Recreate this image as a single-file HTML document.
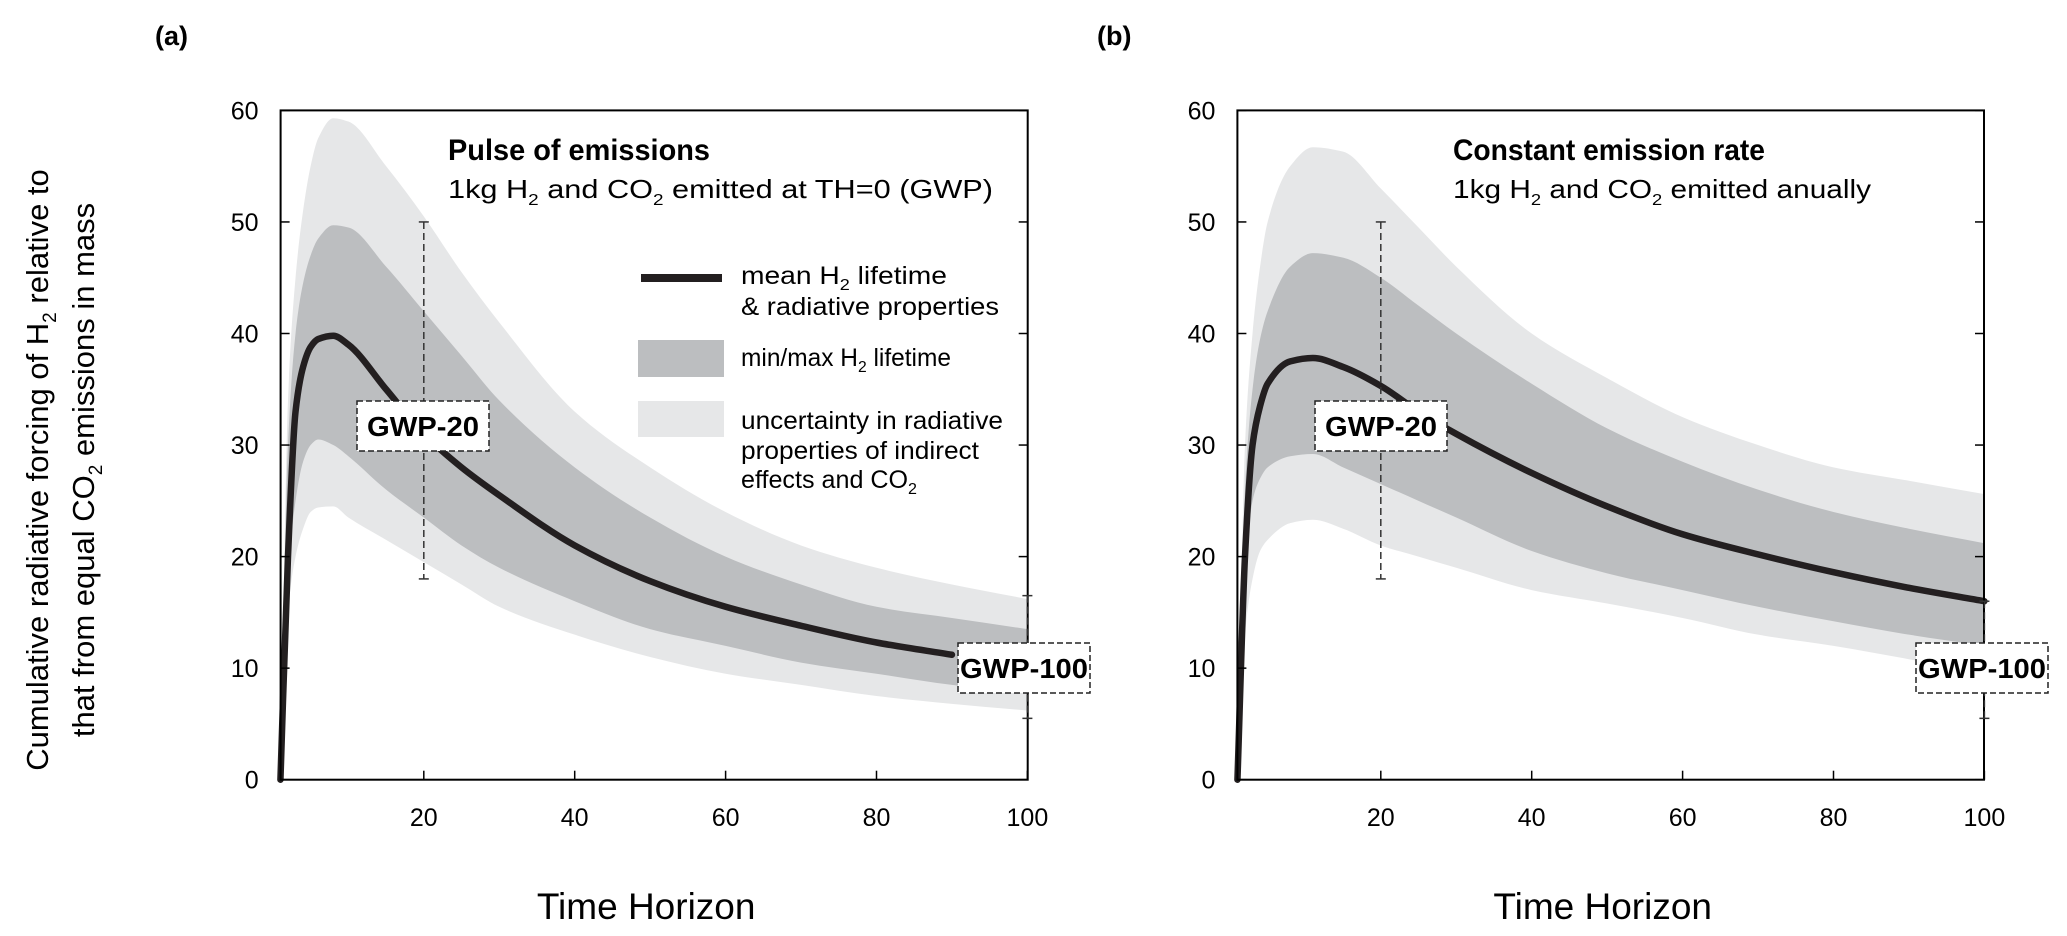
<!DOCTYPE html>
<html><head><meta charset="utf-8"><style>
html,body{margin:0;padding:0;background:#fff;width:2067px;height:936px;overflow:hidden}
svg{display:block;font-family:"Liberation Sans",Arial,sans-serif}
</style></head><body>
<svg id="fig" width="2067" height="936" viewBox="0 0 2067 936" xmlns="http://www.w3.org/2000/svg">
<text x="155" y="45" font-size="27" font-weight="bold">(a)</text>
<text x="1097" y="45" font-size="27" font-weight="bold">(b)</text>
<g transform="translate(48,470) rotate(-90)" font-size="31" text-anchor="middle">
<text x="0" y="0">Cumulative radiative forcing of H<tspan font-size="19" dy="8">2</tspan><tspan dy="-8">  relative to</tspan></text>
<text x="0" y="46">that from equal CO<tspan font-size="19" dy="8">2</tspan><tspan dy="-8"> emissions in mass</tspan></text>
</g>
<g id="pa"></g>
<g id="pb"></g>
</svg>
<script>
const yTicks=[0,10,20,30,40,50,60];
const xTicks=[20,40,60,80,100];
// Panel (a) pulse
const aX=[1,2,3,4,5,6,8,10,15,20,25,30,40,50,60,70,80,90,100];
const aMean=[0,20,33,37,38.8,39.5,39.8,39,35,31,28,25.5,21,17.8,15.5,13.8,12.3,11.2,10.3];
const aDarkHi=[0,30,40,44.5,47,48.5,49.7,49.5,46,42,38,34,28,23.5,20,17.5,15.5,14.5,13.5];
const aDarkLo=[0,18,25,28.5,30,30.5,30,29,26,23.5,21,19,16,13.5,12,10.5,9.5,8.5,7.8];
const aLightHi=[0,34,45,51,55,57.5,59.3,59,55,50.5,45.5,41,33,28,24,21,19,17.5,16.2];
const aLightLo=[0,15,20,22.5,24,24.4,24.5,23.5,21.5,19.5,17.5,15.5,13,11,9.5,8.5,7.5,6.8,6.2];
// Panel (b) constant
const bX=[1,2,3,4,5,8,11,15,20,25,30,40,50,60,70,80,90,100];
const bMean=[0,20,30,33.5,35.5,37.5,37.8,37,35.3,33,31,27.5,24.5,22,20.2,18.6,17.2,16];
const bDarkHi=[0,26,35,39.5,42,46,47.2,46.8,45,42.5,40,35.5,31.5,28.5,26,24,22.5,21.2];
const bDarkLo=[0,18,25,27,28,29,29.2,28,26.5,25,23.5,20.5,18.5,17,15.5,14.2,13,12];
const bLightHi=[0,30,40,46,50,55,56.7,56.3,53,49.5,46,40,36,32.5,30,28,26.8,25.6];
const bLightLo=[0,13,18,20.5,21.5,23,23.3,22.5,21,20,19,17,15.8,14.5,13,12,10.8,9.5];
const NS="http://www.w3.org/2000/svg";
function mk(p,t,a){const e=document.createElementNS(NS,t);for(const k in a)e.setAttribute(k,a[k]);p.appendChild(e);return e;}
function spline(pts,cont){const n=pts.length;const h=[],d=[];for(let i=0;i<n-1;i++){h.push(pts[i+1][0]-pts[i][0]);d.push((pts[i+1][1]-pts[i][1])/h[i]);}
  const m=new Array(n);m[0]=d[0];m[n-1]=d[n-2];
  for(let i=1;i<n-1;i++){if(d[i-1]*d[i]<=0)m[i]=0;else{const w1=2*h[i]+h[i-1],w2=h[i]+2*h[i-1];m[i]=(w1+w2)/(w1/d[i-1]+w2/d[i]);}}
  let s=(cont?" L":"M")+pts[0][0]+","+pts[0][1];
  for(let i=0;i<n-1;i++){const p1=pts[i],p2=pts[i+1],hh=h[i];
    s+=" C"+(p1[0]+hh/3)+","+(p1[1]+m[i]*hh/3)+" "+(p2[0]-hh/3)+","+(p2[1]-m[i+1]*hh/3)+" "+p2[0]+","+p2[1];}
  return s;}
function splineRev(pts){
  const r=pts.map(p=>[-p[0],p[1]]).reverse();const s=spline(r,true);
  return s.replace(/(-?[\d.]+),(-?[\d.]+)/g,(a,x,y)=>(-parseFloat(x))+","+y);}
function panel(g,x0,left,right,X,mean,dh,dl,lh,ll,meanEnd,title,sub,subLen,legend,gwp){
  const top=110.4,bot=779.7;
  const sx=v=>x0+v*7.545, sy=v=>bot-v*(bot-top)/60;
  const band=(hi,lo,name,fill)=>{const up=X.map((x,i)=>[sx(x),sy(hi[i])]);const dn=X.map((x,i)=>[sx(x),sy(lo[i])]);
    const p=mk(g,"path",{d:spline(up,false)+splineRev(dn)+" Z",fill:fill});
    
    };
  band(lh,ll,"uncertainty-band","#e6e7e8");
  band(dh,dl,"lifetime-band","#bcbec0");
  const mp=[];X.forEach((x,i)=>{if(x<=meanEnd)mp.push([sx(x),sy(mean[i])]);});
  const ml=mk(g,"path",{d:spline(mp,false),fill:"none",stroke:"#231f20","stroke-width":6.5,"stroke-linecap":"round"});
  
  
  const fr=mk(g,"rect",{x:left,y:top,width:right-left,height:bot-top,fill:"none",stroke:"#000","stroke-width":2});
  
  
  yTicks.forEach(v=>{const y=sy(v);
    mk(g,"line",{x1:left,x2:left+9,y1:y,y2:y,stroke:"#000","stroke-width":1.5});
    mk(g,"line",{x1:right-9,x2:right,y1:y,y2:y,stroke:"#000","stroke-width":1.5});
    const t=mk(g,"text",{x:left-22,y:y+9,"font-size":25,"text-anchor":"end"});t.textContent=v;
    
    });
  xTicks.forEach(v=>{const x=sx(v);
    mk(g,"line",{x1:x,x2:x,y1:bot,y2:bot-9,stroke:"#000","stroke-width":1.5});
    const t=mk(g,"text",{x:x,y:826,"font-size":25,"text-anchor":"middle"});t.textContent=v;
    
    });
  const xt=mk(g,"text",{x:(left+right)/2-8,y:919,"font-size":37,"text-anchor":"middle"});xt.textContent="Time Horizon";
  
  
  const tt=mk(g,"text",{x:title[1],y:160,"font-size":30,"font-weight":"bold",textLength:title[2],lengthAdjust:"spacingAndGlyphs"});tt.textContent=title[0];
  
  
  const st=mk(g,"text",{x:title[1],y:198,"font-size":26,textLength:subLen,lengthAdjust:"spacingAndGlyphs"});st.innerHTML=sub;
  
  
  gwp.forEach(e=>{const x=sx(e.x);
    mk(g,"line",{x1:x,x2:x,y1:sy(e.hi),y2:sy(e.lo),stroke:"#333","stroke-width":1.5,"stroke-dasharray":"7,4"});
    mk(g,"line",{x1:x-5,x2:x+5,y1:sy(e.hi),y2:sy(e.hi),stroke:"#333","stroke-width":1.5});
    mk(g,"line",{x1:x-5,x2:x+5,y1:sy(e.lo),y2:sy(e.lo),stroke:"#333","stroke-width":1.5});
    const r=mk(g,"rect",{x:e.bx,y:e.by,width:132,height:50,fill:"#fff",stroke:"#222","stroke-width":1.5,"stroke-dasharray":"6,3"});
    
    
    const t=mk(g,"text",{x:e.bx+66,y:e.by+35,"font-size":28,"font-weight":"bold","text-anchor":"middle",textLength:e.tl,lengthAdjust:"spacingAndGlyphs"});t.textContent=e.label;
    
    });
  if(legend){
    const lg=mk(g,"g",{});
    
    
    mk(lg,"line",{x1:641,x2:722,y1:278,y2:278,stroke:"#231f20","stroke-width":8});
    mk(lg,"rect",{x:638,y:340,width:86,height:37,fill:"#bcbec0"});
    mk(lg,"rect",{x:638,y:401,width:86,height:36,fill:"#e6e7e8"});
    const L=[[284,'mean H<tspan font-size="16" dy="6">2</tspan><tspan dy="-6"> lifetime</tspan>',206],[315,'&amp; radiative properties',258],[366,'min/max H<tspan font-size="16" dy="6">2</tspan><tspan dy="-6"> lifetime</tspan>',210],[429,'uncertainty in radiative',262],[459,'properties of indirect',238],[488,'effects and CO<tspan font-size="16" dy="6">2</tspan>',176]];
    L.forEach(l=>{const t=mk(lg,"text",{x:741,y:l[0],"font-size":25,textLength:l[2],lengthAdjust:"spacingAndGlyphs"});t.innerHTML=l[1];
      
      });
  }
}
const sub1='1kg H<tspan font-size="16" dy="7">2</tspan><tspan dy="-7"> and CO</tspan><tspan font-size="16" dy="7">2</tspan><tspan dy="-7"> emitted at TH=0 (GWP)</tspan>';
const sub2='1kg H<tspan font-size="16" dy="7">2</tspan><tspan dy="-7"> and CO</tspan><tspan font-size="16" dy="7">2</tspan><tspan dy="-7"> emitted anually</tspan>';
panel(document.getElementById("pa"),272.9,280.6,1027.7,aX,aMean,aDarkHi,aDarkLo,aLightHi,aLightLo,92,["Pulse of emissions",448,262],sub1,545,true,
 [{x:20,hi:50,lo:18,bx:357,by:401,label:"GWP-20",tl:112},{x:100,hi:16.5,lo:5.5,bx:958,by:643,label:"GWP-100",tl:128}]);
panel(document.getElementById("pb"),1229.9,1237.4,1984,bX,bMean,bDarkHi,bDarkLo,bLightHi,bLightLo,100,["Constant emission rate",1453,312],sub2,418,false,
 [{x:20,hi:50,lo:18,bx:1315,by:401,label:"GWP-20",tl:112},{x:100,hi:16,lo:5.5,bx:1916,by:643,label:"GWP-100",tl:128}]);
</script>
</body></html>
